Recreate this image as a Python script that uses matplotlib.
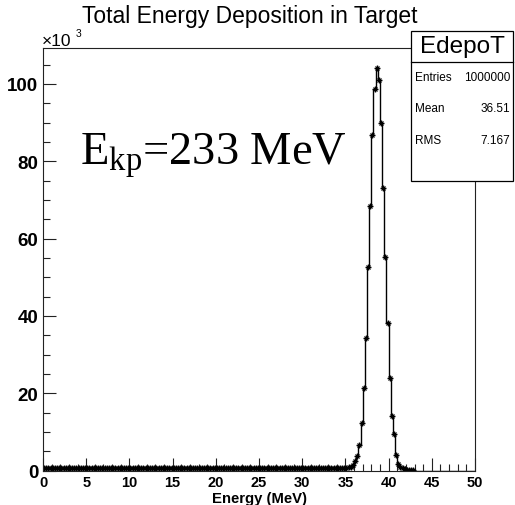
import matplotlib
matplotlib.use("Agg")
import matplotlib.pyplot as plt
import numpy as np
from matplotlib.ticker import MultipleLocator, FuncFormatter
from matplotlib.patches import Rectangle
from matplotlib.lines import Line2D

plt.rcParams["font.family"] = ["Liberation Sans", "DejaVu Sans"]

# histogram EdepoT: 200 bins of 0.25 MeV from 0 to 50 MeV
bin_edges = np.linspace(0, 50, 201)

# low-energy flat tail, bins 0 .. 140 (0 - 35.25 MeV)
flat_counts = [
    652, 671, 648, 660, 683, 655, 641, 669, 677, 650,
    662, 644, 671, 658, 649, 666, 680, 653, 647, 661,
    670, 655, 643, 668, 659, 651, 674, 662, 648, 657,
    665, 652, 678, 660, 646, 663, 669, 654, 650, 672,
    658, 661, 645, 667, 653, 676, 659, 649, 664, 657,
    670, 651, 662, 648, 675, 660, 655, 666, 644, 669,
    657, 663, 652, 671, 659, 648, 666, 654, 673, 661,
    650, 664, 658, 669, 646, 662, 677, 655, 660, 651,
    668, 657, 663, 649, 672, 659, 654, 666, 661, 647,
    670, 656, 662, 651, 675, 660, 653, 667, 658, 664,
    649, 671, 657, 662, 655, 668, 660, 652, 674, 659,
    663, 648, 669, 656, 661, 672, 654, 666, 650, 665,
    658, 662, 673, 657, 651, 668, 660, 664, 655, 670,
    662, 659, 667, 653, 672, 661, 668, 675, 684, 702,
    735,
]

# peak region, bins 141 .. 171 (35.25 - 43 MeV)
peak_counts = [
    800, 900, 1300, 2400, 3700, 6500, 12400, 21300, 34200, 52700,
    68500, 86800, 98800, 104000, 101000, 90000, 73000, 55300, 38200, 23800,
    14100, 9500, 4000, 1800, 1000, 600, 400, 250, 150, 80,
    40,
]

# empty bins up to 50 MeV
empty_counts = [0] * (200 - len(flat_counts) - len(peak_counts))

counts = np.array(flat_counts + peak_counts + empty_counts, dtype=float)
centers = 0.5 * (bin_edges[:-1] + bin_edges[1:])

stat_labels = ["Entries", "Mean", "RMS"]
stat_values = ["1000000", "36.51", "7.167"]

W, H = 515, 506
fig = plt.figure(figsize=(W / 100, H / 100), dpi=100)
ax = fig.add_axes([43 / W, 34.5 / H, 432 / W, 422.2 / H])

ax.stairs(counts, bin_edges, color="black", lw=1.0)
nz = counts > 0
ax.errorbar(centers[nz], counts[nz], xerr=0.125, yerr=np.sqrt(counts[nz]),
            fmt="none", ecolor="black", elinewidth=0.9)
ax.plot(centers[nz], counts[nz], "+", color="black", ms=5, mew=1.0)
ax.plot(centers[nz], counts[nz], "x", color="black", ms=3.2, mew=0.9)

ax.set_xlim(0, 50)
ax.set_ylim(0, 109200)

ax.xaxis.set_major_locator(MultipleLocator(5))
ax.xaxis.set_minor_locator(MultipleLocator(1))
ax.yaxis.set_major_locator(MultipleLocator(20000))
ax.yaxis.set_minor_locator(MultipleLocator(5000))
ax.yaxis.set_major_formatter(FuncFormatter(lambda v, p: "%d" % round(v / 1000)))

ax.tick_params(which="both", direction="in", top=False, right=False, color="#222222")
ax.tick_params(which="major", length=9.4, width=0.8)
ax.tick_params(which="minor", length=5, width=0.8)
ax.tick_params(axis="x", labelsize=10.5, pad=3.5)
ax.tick_params(axis="y", labelsize=13.5, pad=3.5)
for lab in ax.get_xticklabels() + ax.get_yticklabels():
    lab.set_fontweight("bold")
for sp in ax.spines.values():
    sp.set_linewidth(0.8)
    sp.set_color("#222222")

ax.set_xlabel("Energy (MeV)", fontsize=10.7, fontweight="bold", labelpad=1)

# title and exponent
fig.text(250 / W, 1 - 23 / H, "Total Energy Deposition in Target",
         fontsize=16.5, ha="center", va="baseline")
fig.text(42 / W, 1 - 46.5 / H, "\u00d710", fontsize=12.5, ha="left", va="baseline")
fig.text(75.5 / W, 1 - 37 / H, "3", fontsize=7.5, ha="left", va="baseline")

# beam energy annotation
fig.text(80 / W, 1 - 165 / H, r"$\mathregular{E_{kp}}$=233 MeV",
         family="Liberation Serif", fontsize=33.5, ha="left", va="baseline")

# stats box
x0, x1 = 411 / W, 513 / W
y_top, y_sep, y_bot = 1 - 31.7 / H, 1 - 62.7 / H, 1 - 182 / H
fig.patches.append(Rectangle((x0, y_bot), x1 - x0, y_top - y_bot, transform=fig.transFigure,
                             facecolor="white", edgecolor="black", lw=0.9, zorder=5))
fig.lines.append(Line2D([x0, x1], [y_sep, y_sep], transform=fig.transFigure,
                        color="black", lw=0.9, zorder=6))
fig.text((x0 + x1) / 2, (y_top + y_sep) / 2, "EdepoT", fontsize=17.5,
         ha="center", va="center", zorder=7)
for i, (lab, val) in enumerate(zip(stat_labels, stat_values)):
    yy = 1 - (78 + 31.5 * i) / H
    fig.text(415 / W, yy, lab, fontsize=8.5, ha="left", va="center", zorder=7)
    fig.text(510 / W, yy, val, fontsize=8.5, ha="right", va="center", zorder=7)

fig.savefig("out.png", dpi=100)
